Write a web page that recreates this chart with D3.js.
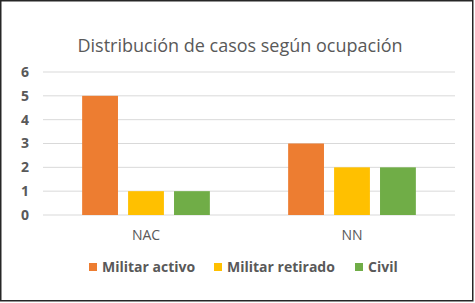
<html>
<head>
<style>
  body { margin: 0; padding: 0; background: white; }
  svg { display: block; }
</style>
<script src="https://cdn.jsdelivr.net/npm/d3@7"></script>
</head>
<body>
<svg width="475" height="303"></svg>
<script>
  // data
  const categories = ["NAC", "NN"];
  const series = ["Militar activo", "Militar retirado", "Civil"];
  const colors = ["#ED7D31", "#FFC000", "#70AD47"];
  const militarActivo = [5, 3];
  const militarRetirado = [1, 2];
  const civil = [1, 2];
  const yTicks = [0, 1, 2, 3, 4, 5, 6];
  const values = [militarActivo, militarRetirado, civil];

  const svg = d3.select("svg");
  const font = "'Open Sans', Calibri, sans-serif";
  const grey = "#595959";

  // outer frame
  svg.append("rect")
    .attr("x", 0.75).attr("y", 0.75)
    .attr("width", 472).attr("height", 300)
    .attr("fill", "white")
    .attr("stroke", "#262626")
    .attr("stroke-width", 1.5);

  const plot = { left: 43, right: 455, top: 72, bottom: 215 };

  const y = d3.scaleLinear().domain([0, 6]).range([plot.bottom, plot.top]);
  const x0 = d3.scaleBand().domain(categories).range([plot.left, plot.right]);
  const x1 = d3.scaleBand().domain(series).range([0, x0.bandwidth() * 0.62]).paddingInner(0.22);
  const offset = x0.bandwidth() * 0.19;

  // title
  svg.append("text")
    .attr("x", 240).attr("y", 52)
    .attr("text-anchor", "middle")
    .attr("font-family", font)
    .attr("font-size", "18px")
    .attr("fill", grey)
    .text("Distribución de casos según ocupación");

  // gridlines
  svg.append("g")
    .selectAll("line")
    .data(yTicks)
    .join("line")
    .attr("x1", plot.left).attr("x2", plot.right)
    .attr("y1", d => y(d)).attr("y2", d => y(d))
    .attr("stroke", "#d9d9d9")
    .attr("stroke-width", 1);

  // y axis labels
  const yAxis = svg.append("g")
    .attr("transform", `translate(29,0)`)
    .call(d3.axisLeft(y).tickValues(yTicks).tickFormat(d3.format("d")).tickSize(0).tickPadding(0));
  yAxis.select(".domain").remove();
  yAxis.selectAll("text")
    .attr("font-family", font)
    .attr("font-size", "14px")
    .attr("font-weight", "bold")
    .attr("fill", grey);

  // bars
  series.forEach((s, si) => {
    svg.append("g")
      .selectAll("rect")
      .data(categories)
      .join("rect")
      .attr("x", c => x0(c) + offset + x1(s))
      .attr("y", (c, i) => y(values[si][i]))
      .attr("width", x1.bandwidth())
      .attr("height", (c, i) => y(0) - y(values[si][i]))
      .attr("fill", colors[si]);
  });

  // x axis labels
  const xAxis = svg.append("g")
    .attr("transform", `translate(0,${plot.bottom + 15})`)
    .call(d3.axisBottom(x0).tickSize(0).tickPadding(0));
  xAxis.select(".domain").remove();
  xAxis.selectAll("text")
    .attr("font-family", font)
    .attr("font-size", "14px")
    .attr("fill", grey);

  // legend
  const legendX = [89, 214, 355];
  const legend = svg.append("g")
    .selectAll("g")
    .data(series)
    .join("g")
    .attr("transform", (d, i) => `translate(${legendX[i]},267)`);
  legend.append("rect")
    .attr("x", 0).attr("y", -4)
    .attr("width", 8).attr("height", 8)
    .attr("fill", (d, i) => colors[i]);
  legend.append("text")
    .attr("x", 13).attr("y", 5)
    .attr("font-family", font)
    .attr("font-size", "14px")
    .attr("font-weight", "bold")
    .attr("fill", grey)
    .text(d => d);
</script>
</body>
</html>
